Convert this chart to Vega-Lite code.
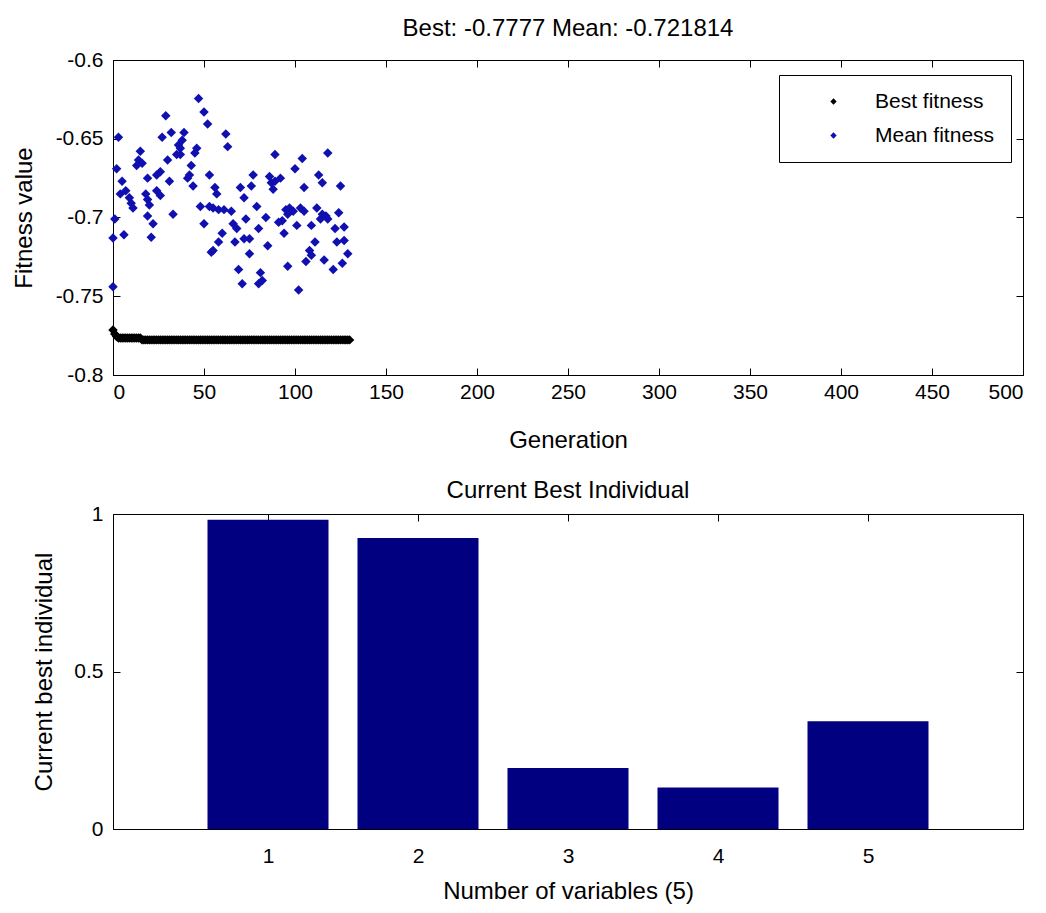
{
  "$schema": "https://vega.github.io/schema/vega-lite/v6.json",
  "background": "white",
  "padding": {"left": 11, "top": 16, "right": 0, "bottom": 3},
  "config": {
    "font": "Liberation Sans, Arial, sans-serif",
    "view": {"stroke": "black", "strokeWidth": 1},
    "axis": {
      "domainColor": "black", "tickColor": "black", "labelColor": "black", "titleColor": "black",
      "grid": false, "tickSize": -7, "labelFontSize": 21, "titleFontSize": 24, "titleFontWeight": "normal",
      "labelFont": "Liberation Sans, Arial, sans-serif",
      "titleFont": "Liberation Sans, Arial, sans-serif"
    },
    "title": {"fontSize": 24, "fontWeight": "normal", "color": "black", "anchor": "middle", "offset": 8,
      "font": "Liberation Sans, Arial, sans-serif"}
  },
  "spacing": 25,
  "vconcat": [
    {
      "width": 910, "height": 315,
      "title": "Best: -0.7777 Mean: -0.721814",
      "data": {"values": [
        {"g":0,"v":-0.7715,"s":"Best fitness"},{"g":1,"v":-0.774,"s":"Best fitness"},{"g":2,"v":-0.7755,"s":"Best fitness"},
        {"g":3,"v":-0.7765,"s":"Best fitness"},{"g":4,"v":-0.7765,"s":"Best fitness"},{"g":5,"v":-0.7765,"s":"Best fitness"},
        {"g":6,"v":-0.7765,"s":"Best fitness"},{"g":7,"v":-0.7765,"s":"Best fitness"},{"g":8,"v":-0.7765,"s":"Best fitness"},
        {"g":9,"v":-0.7765,"s":"Best fitness"},{"g":10,"v":-0.7765,"s":"Best fitness"},{"g":11,"v":-0.7765,"s":"Best fitness"},
        {"g":12,"v":-0.7765,"s":"Best fitness"},{"g":13,"v":-0.7765,"s":"Best fitness"},{"g":14,"v":-0.7765,"s":"Best fitness"},
        {"g":15,"v":-0.7765,"s":"Best fitness"},{"g":16,"v":-0.7777,"s":"Best fitness"},{"g":17,"v":-0.7777,"s":"Best fitness"},
        {"g":18,"v":-0.7777,"s":"Best fitness"},{"g":19,"v":-0.7777,"s":"Best fitness"},{"g":20,"v":-0.7777,"s":"Best fitness"},
        {"g":21,"v":-0.7777,"s":"Best fitness"},{"g":22,"v":-0.7777,"s":"Best fitness"},{"g":23,"v":-0.7777,"s":"Best fitness"},
        {"g":24,"v":-0.7777,"s":"Best fitness"},{"g":25,"v":-0.7777,"s":"Best fitness"},{"g":26,"v":-0.7777,"s":"Best fitness"},
        {"g":27,"v":-0.7777,"s":"Best fitness"},{"g":28,"v":-0.7777,"s":"Best fitness"},{"g":29,"v":-0.7777,"s":"Best fitness"},
        {"g":30,"v":-0.7777,"s":"Best fitness"},{"g":31,"v":-0.7777,"s":"Best fitness"},{"g":32,"v":-0.7777,"s":"Best fitness"},
        {"g":33,"v":-0.7777,"s":"Best fitness"},{"g":34,"v":-0.7777,"s":"Best fitness"},{"g":35,"v":-0.7777,"s":"Best fitness"},
        {"g":36,"v":-0.7777,"s":"Best fitness"},{"g":37,"v":-0.7777,"s":"Best fitness"},{"g":38,"v":-0.7777,"s":"Best fitness"},
        {"g":39,"v":-0.7777,"s":"Best fitness"},{"g":40,"v":-0.7777,"s":"Best fitness"},{"g":41,"v":-0.7777,"s":"Best fitness"},
        {"g":42,"v":-0.7777,"s":"Best fitness"},{"g":43,"v":-0.7777,"s":"Best fitness"},{"g":44,"v":-0.7777,"s":"Best fitness"},
        {"g":45,"v":-0.7777,"s":"Best fitness"},{"g":46,"v":-0.7777,"s":"Best fitness"},{"g":47,"v":-0.7777,"s":"Best fitness"},
        {"g":48,"v":-0.7777,"s":"Best fitness"},{"g":49,"v":-0.7777,"s":"Best fitness"},{"g":50,"v":-0.7777,"s":"Best fitness"},
        {"g":51,"v":-0.7777,"s":"Best fitness"},{"g":52,"v":-0.7777,"s":"Best fitness"},{"g":53,"v":-0.7777,"s":"Best fitness"},
        {"g":54,"v":-0.7777,"s":"Best fitness"},{"g":55,"v":-0.7777,"s":"Best fitness"},{"g":56,"v":-0.7777,"s":"Best fitness"},
        {"g":57,"v":-0.7777,"s":"Best fitness"},{"g":58,"v":-0.7777,"s":"Best fitness"},{"g":59,"v":-0.7777,"s":"Best fitness"},
        {"g":60,"v":-0.7777,"s":"Best fitness"},{"g":61,"v":-0.7777,"s":"Best fitness"},{"g":62,"v":-0.7777,"s":"Best fitness"},
        {"g":63,"v":-0.7777,"s":"Best fitness"},{"g":64,"v":-0.7777,"s":"Best fitness"},{"g":65,"v":-0.7777,"s":"Best fitness"},
        {"g":66,"v":-0.7777,"s":"Best fitness"},{"g":67,"v":-0.7777,"s":"Best fitness"},{"g":68,"v":-0.7777,"s":"Best fitness"},
        {"g":69,"v":-0.7777,"s":"Best fitness"},{"g":70,"v":-0.7777,"s":"Best fitness"},{"g":71,"v":-0.7777,"s":"Best fitness"},
        {"g":72,"v":-0.7777,"s":"Best fitness"},{"g":73,"v":-0.7777,"s":"Best fitness"},{"g":74,"v":-0.7777,"s":"Best fitness"},
        {"g":75,"v":-0.7777,"s":"Best fitness"},{"g":76,"v":-0.7777,"s":"Best fitness"},{"g":77,"v":-0.7777,"s":"Best fitness"},
        {"g":78,"v":-0.7777,"s":"Best fitness"},{"g":79,"v":-0.7777,"s":"Best fitness"},{"g":80,"v":-0.7777,"s":"Best fitness"},
        {"g":81,"v":-0.7777,"s":"Best fitness"},{"g":82,"v":-0.7777,"s":"Best fitness"},{"g":83,"v":-0.7777,"s":"Best fitness"},
        {"g":84,"v":-0.7777,"s":"Best fitness"},{"g":85,"v":-0.7777,"s":"Best fitness"},{"g":86,"v":-0.7777,"s":"Best fitness"},
        {"g":87,"v":-0.7777,"s":"Best fitness"},{"g":88,"v":-0.7777,"s":"Best fitness"},{"g":89,"v":-0.7777,"s":"Best fitness"},
        {"g":90,"v":-0.7777,"s":"Best fitness"},{"g":91,"v":-0.7777,"s":"Best fitness"},{"g":92,"v":-0.7777,"s":"Best fitness"},
        {"g":93,"v":-0.7777,"s":"Best fitness"},{"g":94,"v":-0.7777,"s":"Best fitness"},{"g":95,"v":-0.7777,"s":"Best fitness"},
        {"g":96,"v":-0.7777,"s":"Best fitness"},{"g":97,"v":-0.7777,"s":"Best fitness"},{"g":98,"v":-0.7777,"s":"Best fitness"},
        {"g":99,"v":-0.7777,"s":"Best fitness"},{"g":100,"v":-0.7777,"s":"Best fitness"},{"g":101,"v":-0.7777,"s":"Best fitness"},
        {"g":102,"v":-0.7777,"s":"Best fitness"},{"g":103,"v":-0.7777,"s":"Best fitness"},{"g":104,"v":-0.7777,"s":"Best fitness"},
        {"g":105,"v":-0.7777,"s":"Best fitness"},{"g":106,"v":-0.7777,"s":"Best fitness"},{"g":107,"v":-0.7777,"s":"Best fitness"},
        {"g":108,"v":-0.7777,"s":"Best fitness"},{"g":109,"v":-0.7777,"s":"Best fitness"},{"g":110,"v":-0.7777,"s":"Best fitness"},
        {"g":111,"v":-0.7777,"s":"Best fitness"},{"g":112,"v":-0.7777,"s":"Best fitness"},{"g":113,"v":-0.7777,"s":"Best fitness"},
        {"g":114,"v":-0.7777,"s":"Best fitness"},{"g":115,"v":-0.7777,"s":"Best fitness"},{"g":116,"v":-0.7777,"s":"Best fitness"},
        {"g":117,"v":-0.7777,"s":"Best fitness"},{"g":118,"v":-0.7777,"s":"Best fitness"},{"g":119,"v":-0.7777,"s":"Best fitness"},
        {"g":120,"v":-0.7777,"s":"Best fitness"},{"g":121,"v":-0.7777,"s":"Best fitness"},{"g":122,"v":-0.7777,"s":"Best fitness"},
        {"g":123,"v":-0.7777,"s":"Best fitness"},{"g":124,"v":-0.7777,"s":"Best fitness"},{"g":125,"v":-0.7777,"s":"Best fitness"},
        {"g":126,"v":-0.7777,"s":"Best fitness"},{"g":127,"v":-0.7777,"s":"Best fitness"},{"g":128,"v":-0.7777,"s":"Best fitness"},
        {"g":129,"v":-0.7777,"s":"Best fitness"},{"g":130,"v":-0.7777,"s":"Best fitness"},
        {"g":0,"v":-0.744,"s":"Mean fitness"},{"g":0,"v":-0.713,"s":"Mean fitness"},{"g":1,"v":-0.701,"s":"Mean fitness"},
        {"g":2,"v":-0.669,"s":"Mean fitness"},{"g":3,"v":-0.649,"s":"Mean fitness"},{"g":4,"v":-0.685,"s":"Mean fitness"},
        {"g":5,"v":-0.677,"s":"Mean fitness"},{"g":6,"v":-0.711,"s":"Mean fitness"},{"g":7,"v":-0.683,"s":"Mean fitness"},
        {"g":9,"v":-0.6875,"s":"Mean fitness"},{"g":10,"v":-0.691,"s":"Mean fitness"},{"g":11,"v":-0.694,"s":"Mean fitness"},
        {"g":13,"v":-0.667,"s":"Mean fitness"},{"g":14,"v":-0.6635,"s":"Mean fitness"},{"g":15,"v":-0.658,"s":"Mean fitness"},
        {"g":16,"v":-0.6656,"s":"Mean fitness"},{"g":18,"v":-0.685,"s":"Mean fitness"},{"g":19,"v":-0.675,"s":"Mean fitness"},
        {"g":19,"v":-0.6885,"s":"Mean fitness"},{"g":19,"v":-0.699,"s":"Mean fitness"},{"g":20,"v":-0.692,"s":"Mean fitness"},
        {"g":21,"v":-0.7125,"s":"Mean fitness"},{"g":22,"v":-0.704,"s":"Mean fitness"},{"g":24,"v":-0.673,"s":"Mean fitness"},
        {"g":24,"v":-0.683,"s":"Mean fitness"},{"g":26,"v":-0.671,"s":"Mean fitness"},{"g":26,"v":-0.686,"s":"Mean fitness"},
        {"g":27,"v":-0.649,"s":"Mean fitness"},{"g":29,"v":-0.6354,"s":"Mean fitness"},{"g":30,"v":-0.6635,"s":"Mean fitness"},
        {"g":31,"v":-0.677,"s":"Mean fitness"},{"g":32,"v":-0.646,"s":"Mean fitness"},{"g":33,"v":-0.698,"s":"Mean fitness"},
        {"g":35,"v":-0.66,"s":"Mean fitness"},{"g":36,"v":-0.654,"s":"Mean fitness"},{"g":37,"v":-0.656,"s":"Mean fitness"},
        {"g":37,"v":-0.66,"s":"Mean fitness"},{"g":38,"v":-0.651,"s":"Mean fitness"},{"g":39,"v":-0.646,"s":"Mean fitness"},
        {"g":41,"v":-0.675,"s":"Mean fitness"},{"g":42,"v":-0.673,"s":"Mean fitness"},{"g":43,"v":-0.667,"s":"Mean fitness"},
        {"g":44,"v":-0.68,"s":"Mean fitness"},{"g":45,"v":-0.659,"s":"Mean fitness"},{"g":46,"v":-0.656,"s":"Mean fitness"},
        {"g":47,"v":-0.6244,"s":"Mean fitness"},{"g":48,"v":-0.693,"s":"Mean fitness"},{"g":50,"v":-0.704,"s":"Mean fitness"},
        {"g":50,"v":-0.633,"s":"Mean fitness"},{"g":52,"v":-0.6406,"s":"Mean fitness"},{"g":53,"v":-0.673,"s":"Mean fitness"},
        {"g":53,"v":-0.693,"s":"Mean fitness"},{"g":54,"v":-0.722,"s":"Mean fitness"},{"g":55,"v":-0.721,"s":"Mean fitness"},
        {"g":55,"v":-0.694,"s":"Mean fitness"},{"g":56,"v":-0.681,"s":"Mean fitness"},{"g":57,"v":-0.685,"s":"Mean fitness"},
        {"g":58,"v":-0.695,"s":"Mean fitness"},{"g":58,"v":-0.7156,"s":"Mean fitness"},{"g":60,"v":-0.71,"s":"Mean fitness"},
        {"g":61,"v":-0.695,"s":"Mean fitness"},{"g":62,"v":-0.647,"s":"Mean fitness"},{"g":63,"v":-0.655,"s":"Mean fitness"},
        {"g":65,"v":-0.696,"s":"Mean fitness"},{"g":66,"v":-0.704,"s":"Mean fitness"},{"g":67,"v":-0.7156,"s":"Mean fitness"},
        {"g":68,"v":-0.707,"s":"Mean fitness"},{"g":69,"v":-0.733,"s":"Mean fitness"},{"g":70,"v":-0.681,"s":"Mean fitness"},
        {"g":71,"v":-0.742,"s":"Mean fitness"},{"g":72,"v":-0.6875,"s":"Mean fitness"},{"g":72,"v":-0.7135,"s":"Mean fitness"},
        {"g":73,"v":-0.701,"s":"Mean fitness"},{"g":75,"v":-0.7135,"s":"Mean fitness"},{"g":75,"v":-0.723,"s":"Mean fitness"},
        {"g":76,"v":-0.68,"s":"Mean fitness"},{"g":77,"v":-0.673,"s":"Mean fitness"},{"g":79,"v":-0.693,"s":"Mean fitness"},
        {"g":80,"v":-0.707,"s":"Mean fitness"},{"g":80,"v":-0.742,"s":"Mean fitness"},{"g":81,"v":-0.735,"s":"Mean fitness"},
        {"g":82,"v":-0.74,"s":"Mean fitness"},{"g":84,"v":-0.7,"s":"Mean fitness"},{"g":85,"v":-0.718,"s":"Mean fitness"},
        {"g":86,"v":-0.674,"s":"Mean fitness"},{"g":87,"v":-0.678,"s":"Mean fitness"},{"g":88,"v":-0.682,"s":"Mean fitness"},
        {"g":89,"v":-0.677,"s":"Mean fitness"},{"g":89,"v":-0.66,"s":"Mean fitness"},{"g":91,"v":-0.703,"s":"Mean fitness"},
        {"g":92,"v":-0.675,"s":"Mean fitness"},{"g":93,"v":-0.702,"s":"Mean fitness"},{"g":94,"v":-0.71,"s":"Mean fitness"},
        {"g":95,"v":-0.695,"s":"Mean fitness"},{"g":96,"v":-0.698,"s":"Mean fitness"},{"g":96,"v":-0.731,"s":"Mean fitness"},
        {"g":97,"v":-0.694,"s":"Mean fitness"},{"g":99,"v":-0.696,"s":"Mean fitness"},{"g":100,"v":-0.669,"s":"Mean fitness"},
        {"g":101,"v":-0.705,"s":"Mean fitness"},{"g":102,"v":-0.746,"s":"Mean fitness"},{"g":103,"v":-0.694,"s":"Mean fitness"},
        {"g":104,"v":-0.6625,"s":"Mean fitness"},{"g":105,"v":-0.681,"s":"Mean fitness"},{"g":105,"v":-0.696,"s":"Mean fitness"},
        {"g":106,"v":-0.728,"s":"Mean fitness"},{"g":108,"v":-0.721,"s":"Mean fitness"},{"g":109,"v":-0.705,"s":"Mean fitness"},
        {"g":109,"v":-0.724,"s":"Mean fitness"},{"g":111,"v":-0.7156,"s":"Mean fitness"},{"g":112,"v":-0.694,"s":"Mean fitness"},
        {"g":113,"v":-0.673,"s":"Mean fitness"},{"g":114,"v":-0.701,"s":"Mean fitness"},{"g":115,"v":-0.678,"s":"Mean fitness"},
        {"g":115,"v":-0.698,"s":"Mean fitness"},{"g":116,"v":-0.727,"s":"Mean fitness"},{"g":117,"v":-0.699,"s":"Mean fitness"},
        {"g":118,"v":-0.701,"s":"Mean fitness"},{"g":118,"v":-0.659,"s":"Mean fitness"},{"g":121,"v":-0.733,"s":"Mean fitness"},
        {"g":122,"v":-0.707,"s":"Mean fitness"},{"g":123,"v":-0.7156,"s":"Mean fitness"},{"g":124,"v":-0.697,"s":"Mean fitness"},
        {"g":125,"v":-0.68,"s":"Mean fitness"},{"g":126,"v":-0.729,"s":"Mean fitness"},{"g":127,"v":-0.706,"s":"Mean fitness"},
        {"g":127,"v":-0.7146,"s":"Mean fitness"},{"g":129,"v":-0.723,"s":"Mean fitness"}
      ]},
      "layer": [
        {
          "mark": {"type": "point", "shape": "diamond", "filled": true, "size": 90, "opacity": 1},
          "encoding": {
            "x": {"field": "g", "type": "quantitative", "scale": {"domain": [0, 500], "nice": false, "zero": false},
              "axis": {"values": [0, 50, 100, 150, 200, 250, 300, 350, 400, 450, 500], "title": "Generation",
                "labelPadding": 13, "titlePadding": 26}},
            "y": {"field": "v", "type": "quantitative", "scale": {"domain": [-0.8, -0.6], "nice": false, "zero": false},
              "axis": {"values": [-0.8, -0.75, -0.7, -0.65, -0.6], "labelExpr": "'' + datum.value", "title": "Fitness value",
                "labelPadding": 17, "titlePadding": 19}},
            "color": {"field": "s", "type": "nominal",
              "scale": {"domain": ["Best fitness", "Mean fitness"], "range": ["black", "#1010b0"]},
              "legend": {"orient": "none", "legendX": 666, "legendY": 15, "title": null, "strokeColor": "black",
                "fillColor": "white", "padding": 16, "symbolType": "diamond", "symbolSize": 40, "symbolOffset": 28,
                "labelOffset": 31, "labelFontSize": 21, "rowPadding": 12, "cornerRadius": 0, "labelColor": "black",
                "labelFont": "Liberation Sans, Arial, sans-serif", "symbolStrokeWidth": 0}}
          }
        },
        {
          "mark": {"type": "point", "opacity": 0},
          "encoding": {
            "x": {"field": "g", "type": "quantitative", "axis": {"orient": "top", "values": [0, 50, 100, 150, 200, 250, 300, 350, 400, 450, 500], "labels": false, "title": null, "domain": false}},
            "y": {"field": "v", "type": "quantitative", "axis": {"orient": "right", "values": [-0.8, -0.75, -0.7, -0.65, -0.6], "labels": false, "title": null, "domain": false}}
          }
        }
      ],
      "resolve": {"axis": {"x": "independent", "y": "independent"}}
    },
    {
      "width": 910, "height": 315,
      "title": {"text": "Current Best Individual", "offset": 0},
      "data": {"values": [
        {"n": 1, "val": 0.982}, {"n": 2, "val": 0.924}, {"n": 3, "val": 0.194}, {"n": 4, "val": 0.132}, {"n": 5, "val": 0.342}
      ]},
      "layer": [
        {
          "mark": {"type": "bar", "width": 121, "color": "#000080"},
          "encoding": {
            "x": {"field": "n", "type": "quantitative", "scale": {"domain": [0, 6], "nice": false, "zero": false},
              "axis": {"values": [1, 2, 3, 4, 5], "title": "Number of variables (5)", "labelPadding": 23, "titlePadding": 13}},
            "y": {"field": "val", "type": "quantitative", "scale": {"domain": [0, 1], "nice": false},
              "axis": {"values": [0, 0.5, 1], "labelExpr": "'' + datum.value", "title": "Current best individual",
                "labelPadding": 17, "titlePadding": 17}}
          }
        },
        {
          "mark": {"type": "point", "opacity": 0},
          "encoding": {
            "x": {"field": "n", "type": "quantitative", "axis": {"orient": "top", "values": [1, 2, 3, 4, 5], "labels": false, "title": null, "domain": false}},
            "y": {"field": "val", "type": "quantitative", "axis": {"orient": "right", "values": [0, 0.5, 1], "labels": false, "title": null, "domain": false}}
          }
        }
      ],
      "resolve": {"axis": {"x": "independent", "y": "independent"}}
    }
  ]
}
